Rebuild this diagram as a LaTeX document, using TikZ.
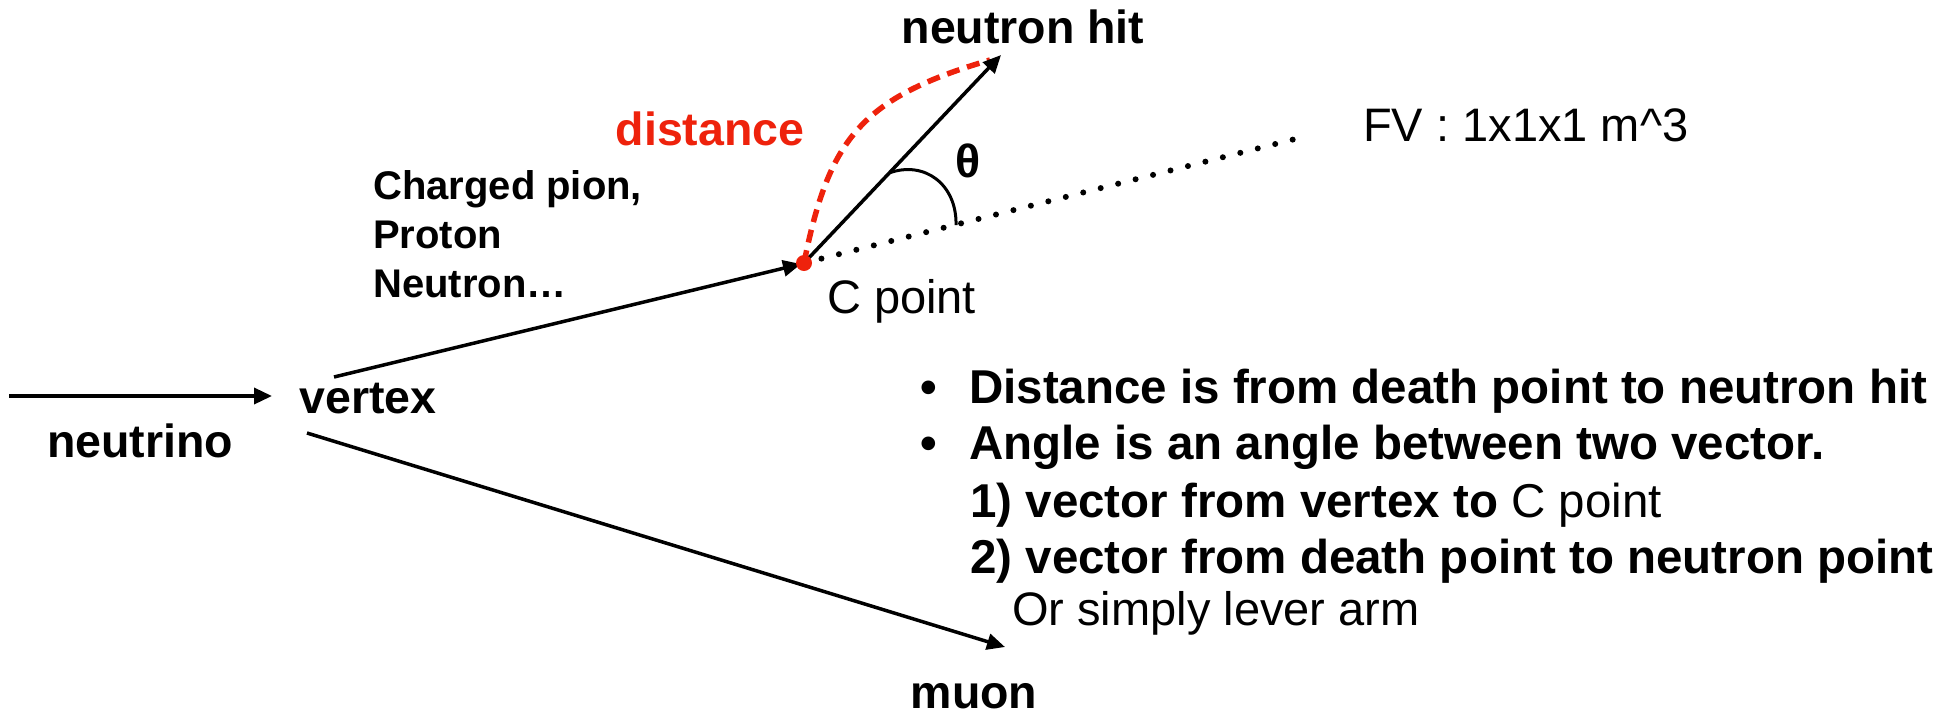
\documentclass[tikz,border=0pt]{standalone}
\usepackage{fontspec}
\setmainfont{Liberation Sans}
\usetikzlibrary{arrows.meta}
\definecolor{distred}{RGB}{238,34,12}
\begin{document}
\begin{tikzpicture}[x=1pt,y=-1pt,
  big/.style={font=\fontsize{46.5}{56}\selectfont\bfseries, inner sep=0pt},
  bul/.style={font=\fontsize{47.5}{56}\selectfont\bfseries, inner sep=0pt},
  reg/.style={font=\fontsize{47}{56}\selectfont, inner sep=0pt},
  small/.style={font=\fontsize{40}{49}\selectfont\bfseries, inner sep=0pt},
  track/.style={line width=3.5pt, -{Triangle[length=18pt,width=16pt]}},
]
\useasboundingbox (0,0) rectangle (1955,716);

% labels
\node[big, anchor=base] (nu) at (140,457) {neutrino};
\node[big, anchor=base] (vertex) at (368,413) {vertex};
\node[big, anchor=base] (muon) at (974,708) {muon};
\node[big, anchor=base] (nhitlbl) at (1023,43) {neutron hit};
\node[big, anchor=base, text=distred] (dist) at (710,145) {distance};
\node[big, anchor=base] (theta) at (968,177) {θ};
\node[small, anchor=base west] (p1) at (373,199) {Charged pion,};
\node[small, anchor=base west] (p2) at (373,248) {Proton};
\node[small, anchor=base west] (p3) at (373,297) {Neutron…};
\node[reg, anchor=base west] (cpt) at (827,313) {C point};
\node[reg, anchor=base west] (fv) at (1363,141) {FV : 1x1x1 m\textasciicircum 3};

% bullet text
\node[bul, anchor=base] (b1) at (929,403) {•};
\node[bul, anchor=base west] (t1) at (969,403) {Distance is from death point to neutron hit};
\node[bul, anchor=base] (b2) at (929,459) {•};
\node[bul, anchor=base west] (t2) at (969,459) {Angle is an angle between two vector.};
\node[bul, anchor=base west] (t3) at (970,517) {1) vector from vertex to {\mdseries C point}};
\node[bul, anchor=base west] (t4) at (970,573) {2) vector from death point to neutron point};
\node[reg, anchor=base west] (t5) at (1012,625) {Or simply lever arm};

% coordinates
\coordinate (nuS) at (9,396);
\coordinate (nuE) at (272,396);
\coordinate (piS) at (334,377);
\coordinate (C) at (804,263);
\coordinate (piE) at (801,264);
\coordinate (muS) at (307,433);
\coordinate (muE) at (1005,647);
\coordinate (nH) at (1001,55);
\coordinate (fvE) at (1303,137);
\coordinate (arcS) at (889,173);
\coordinate (arcE) at (956,225);
\coordinate (dE) at (990,60);

% tracks
\draw[track] (nuS) -- (nuE);
\draw[track] (piS) -- (piE);
\draw[track] (muS) -- (muE);
\draw[line width=6pt, line cap=round, dash pattern=on 0pt off 18pt] (C) -- (fvE);
\draw[distred, line width=5.5pt, dash pattern=on 13pt off 8pt] (C) .. controls (829,138) and (862,97.5) .. (dE);
\draw[track] (C) -- (nH);
\draw[line width=3pt] (arcS) .. controls (925,160) and (957,185) .. (arcE);
\node[circle, fill=distred, inner sep=0pt, minimum size=16pt] (Cdot) at (C) {};
\end{tikzpicture}
\end{document}
